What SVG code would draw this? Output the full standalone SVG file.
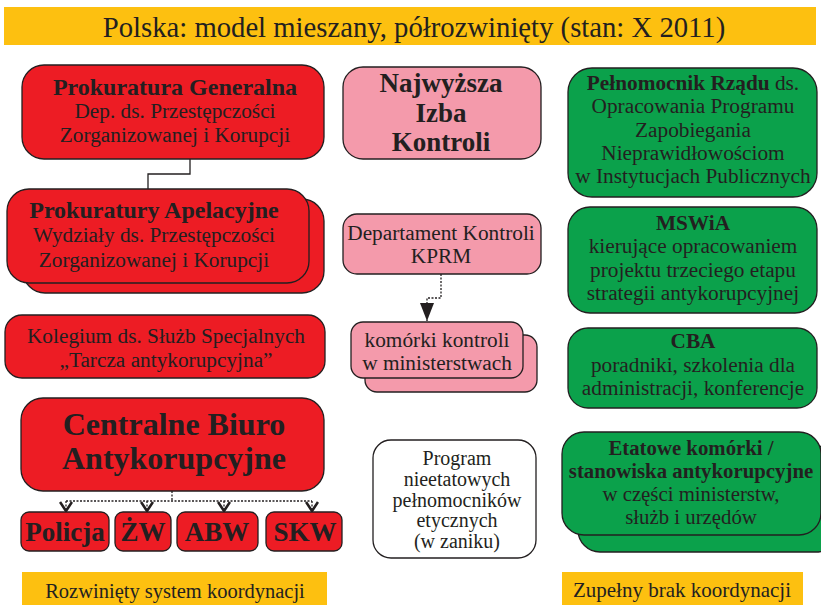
<svg xmlns="http://www.w3.org/2000/svg" width="821" height="605" viewBox="0 0 821 605" font-family="'Liberation Serif', 'DejaVu Serif', 'Times New Roman', serif">
<defs>
<style>
text{font-family:'Liberation Serif','DejaVu Serif','Times New Roman',serif;fill:#231F20;text-anchor:middle}
.b{font-weight:bold}
.box{stroke:#231F20;stroke-width:1.3}
.red{fill:#ED1C24}
.pink{fill:#F49AAB}
.green{fill:#0BA14B}
.white{fill:#FFFFFF}
.yel{fill:#FDC010}
.t{font-size:21.3px}
.te{font-size:20.8px}
.hb{font-size:24px;font-weight:bold}
.sb{font-size:27px;font-weight:bold}
.dot{fill:none;stroke:#231F20;stroke-width:1.3;stroke-dasharray:2 1.5}
.solid{fill:none;stroke:#231F20;stroke-width:1.3}
</style>
<marker id="vopen" viewBox="0 0 12 14" refX="11" refY="7" markerWidth="12" markerHeight="14" markerUnits="userSpaceOnUse" orient="auto">
<path d="M1,1 L10,7 L1,13" fill="none" stroke="#231F20" stroke-width="2.6"/>
</marker>
<marker id="tri" viewBox="0 0 18 14" refX="18" refY="7" markerWidth="18" markerHeight="14" markerUnits="userSpaceOnUse" orient="auto">
<path d="M0,0 L18,7 L0,14 Z" fill="#231F20"/>
</marker>
</defs>
<rect width="821" height="605" fill="#FFFFFF"/>

<g id="title">
<rect class="yel" x="4" y="7" width="812" height="38"/>
<text x="414" y="37" style="font-size:28.7px">Polska: model mieszany, półrozwinięty (stan: X 2011)</text>
</g>

<g id="connectors">
<path class="solid" d="M190,159 V174 H148 V189"/>
<path class="dot" d="M172,491 V501 M66,501 H312"/>
<path class="dot" d="M66,501 V512" marker-end="url(#vopen)"/>
<path class="dot" d="M147,501 V512" marker-end="url(#vopen)"/>
<path class="dot" d="M224,501 V512" marker-end="url(#vopen)"/>
<path class="dot" d="M312,501 V512" marker-end="url(#vopen)"/>
<path class="dot" d="M441,274 V298 H427 V321" marker-end="url(#tri)"/>
</g>

<g id="prokuratura-generalna">
<rect class="box red" x="22" y="65" width="302" height="94" rx="22"/>
<text class="hb" x="175" y="95">Prokuratura Generalna</text>
<text class="t" x="175" y="118">Dep. ds. Przestępczości</text>
<text class="t" x="175" y="142">Zorganizowanej i Korupcji</text>
</g>

<g id="prokuratury-apelacyjne">
<rect class="box red" x="23" y="199" width="301" height="94" rx="22"/>
<rect class="box red" x="7" y="189" width="302" height="94" rx="22"/>
<text class="hb" x="154" y="218">Prokuratury Apelacyjne</text>
<text class="t" x="154" y="242">Wydziały ds. Przestępczości</text>
<text class="t" x="154" y="267">Zorganizowanej i Korupcji</text>
</g>

<g id="kolegium">
<rect class="box red" x="5" y="315" width="320" height="63" rx="17"/>
<text class="t" x="166" y="343">Kolegium ds. Służb Specjalnych</text>
<text class="t" x="166" y="367">„Tarcza antykorupcyjna”</text>
</g>

<g id="cba-red">
<rect class="box red" x="21" y="398" width="303" height="93" rx="22"/>
<text class="b" x="174" y="435" style="font-size:32px">Centralne Biuro</text>
<text class="b" x="174" y="469" style="font-size:32px">Antykorupcyjne</text>
</g>

<g id="policja">
<rect class="box red" x="21" y="512" width="88" height="39" rx="8"/>
<text class="sb" x="65" y="541">Policja</text>
</g>
<g id="zw">
<rect class="box red" x="115" y="512" width="56" height="39" rx="8"/>
<text class="sb" x="143" y="541">ŻW</text>
</g>
<g id="abw">
<rect class="box red" x="177" y="512" width="81" height="39" rx="8"/>
<text class="sb" x="217" y="541">ABW</text>
</g>
<g id="skw">
<rect class="box red" x="266" y="512" width="76" height="39" rx="8"/>
<text class="sb" x="305" y="541">SKW</text>
</g>

<g id="label-left">
<rect class="yel" x="22" y="572" width="305" height="33"/>
<text x="175" y="598" style="font-size:20.5px">Rozwinięty system koordynacji</text>
</g>

<g id="nik">
<rect class="box pink" x="343" y="67" width="198" height="92" rx="20"/>
<text class="sb" x="441" y="92">Najwyższa</text>
<text class="sb" x="441" y="122">Izba</text>
<text class="sb" x="441" y="151">Kontroli</text>
</g>

<g id="kprm">
<rect class="box pink" x="343" y="214" width="198" height="60" rx="14"/>
<text class="t" x="441" y="240">Departament Kontroli</text>
<text class="t" x="441" y="263">KPRM</text>
</g>

<g id="komorki">
<rect class="box pink" x="365" y="335" width="172" height="57" rx="12"/>
<rect class="box pink" x="351" y="322" width="172" height="56" rx="12"/>
<text class="t" x="437" y="347">komórki kontroli</text>
<text class="t" x="437" y="370">w ministerstwach</text>
</g>

<g id="program">
<rect class="box white" x="373" y="440" width="163" height="118" rx="18"/>
<text x="457" y="465" style="font-size:20px">Program</text>
<text x="457" y="486" style="font-size:20px">nieetatowych</text>
<text x="457" y="507" style="font-size:20px">pełnomocników</text>
<text x="457" y="527" style="font-size:20px">etycznych</text>
<text x="457" y="548" style="font-size:20px">(w zaniku)</text>
</g>

<g id="pelnomocnik">
<rect class="box green" x="568" y="68" width="249" height="129" rx="24"/>
<text class="t" x="693" y="90"><tspan class="b">Pełnomocnik Rządu</tspan> ds.</text>
<text class="t" x="693" y="113">Opracowania Programu</text>
<text class="t" x="693" y="137">Zapobiegania</text>
<text class="t" x="693" y="160">Nieprawidłowościom</text>
<text class="t" x="693" y="183">w Instytucjach Publicznych</text>
</g>

<g id="mswia">
<rect class="box green" x="568" y="207" width="249" height="106" rx="22"/>
<text class="t b" x="693" y="230">MSWiA</text>
<text class="t" x="693" y="253">kierujące opracowaniem</text>
<text class="t" x="693" y="277">projektu trzeciego etapu</text>
<text class="t" x="693" y="300">strategii antykorupcyjnej</text>
</g>

<g id="cba-green">
<rect class="box green" x="568" y="328" width="249" height="80" rx="20"/>
<text class="t b" x="693" y="348">CBA</text>
<text class="t" x="693" y="372">poradniki, szkolenia dla</text>
<text class="t" x="693" y="395">administracji, konferencje</text>
</g>

<g id="etatowe">
<rect class="box green" x="578" y="446" width="260" height="106" rx="22"/>
<rect class="box green" x="562" y="432" width="259" height="103" rx="22"/>
<text class="te b" x="691" y="455">Etatowe komórki /</text>
<text class="te b" x="691" y="478">stanowiska antykorupcyjne</text>
<text class="te" x="691" y="501">w części ministerstw,</text>
<text class="te" x="691" y="524">służb i urzędów</text>
</g>

<g id="label-right">
<rect class="yel" x="562" y="572" width="241" height="33"/>
<text x="682" y="597" style="font-size:21px">Zupełny brak koordynacji</text>
</g>
</svg>
